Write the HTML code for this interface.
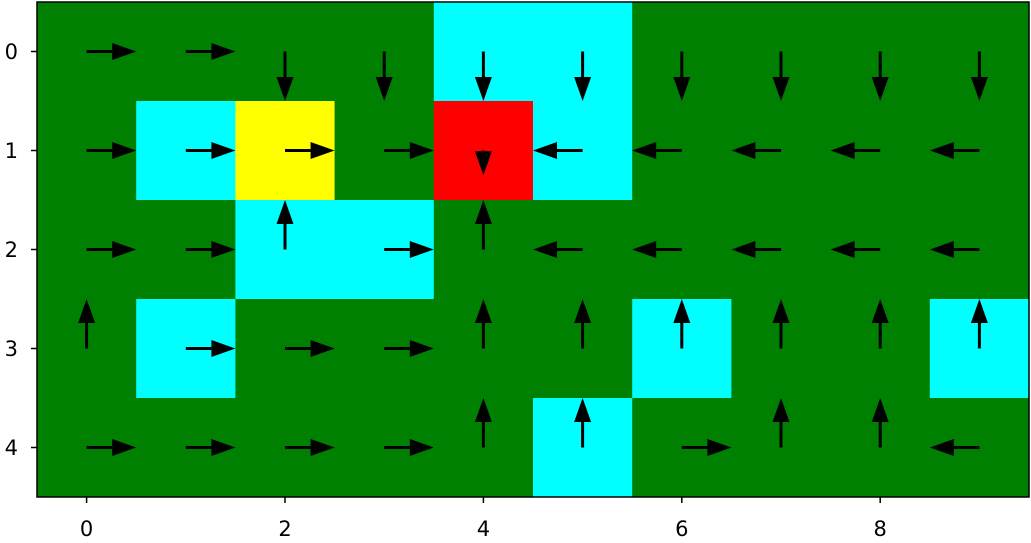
<!DOCTYPE html>
<html><head><meta charset="utf-8"><style>
html,body{margin:0;padding:0;background:#fff;}
svg{display:block;font-family:"DejaVu Sans","Liberation Sans",sans-serif;}
</style></head><body>
<svg id="chart" width="1031" height="543" viewBox="0 0 1031 543" xmlns="http://www.w3.org/2000/svg"></svg>
<script>
// grid cell types: G=green, C=cyan, Y=yellow(start), R=red(goal)
const gridRows = [
  "GGGGCCGGGG",
  "GCYGRCGGGG",
  "GGCCGGGGGG",
  "GCGGGGCGGC",
  "GGGGGCGGGG"
];
// arrow directions per cell: R,L,U,D
const arrowRows = [
  "RRDDDDDDDD",
  "RRRRDLLLLL",
  "RRURULLLLL",
  "URRRUUUUUU",
  "RRRRUURUUL"
];
// arrow length (in cells) overrides
const shortArrows = [[4,1]];
const xTicks = [0,2,4,6,8];
const yTicks = [0,1,2,3,4];

const svg = document.getElementById('chart');
const NS = 'http://www.w3.org/2000/svg';
const L = 37, R = 1029, T = 2, B = 497;
const nCols = 10, nRows = 5;
const cw = (R-L)/nCols, ch = (B-T)/nRows;
const xs = v => L + (v+0.5)*cw;
const ys = v => T + (v+0.5)*ch;
const colors = {G:'#008000',C:'#00ffff',Y:'#ffff00',R:'#ff0000'};
function mk(tag, attrs){const e=document.createElementNS(NS,tag);for(const k in attrs)e.setAttribute(k,attrs[k]);svg.appendChild(e);return e;}

gridRows.forEach((row,r)=>{
  [...row].forEach((c,i)=>{
    const e = mk('rect',{x:L+i*cw,y:T+r*ch,width:cw+0.5,height:ch+0.5,fill:colors[c]});
    
    
  });
});

const dirs = {R:[1,0],L:[-1,0],U:[0,-1],D:[0,1]};
arrowRows.forEach((row,r)=>{
  [...row].forEach((d,i)=>{
    let len = 0.5;
    if (shortArrows.some(p=>p[0]===i&&p[1]===r)) len = 0.25;
    const [dx,dy] = dirs[d];
    const x0 = xs(i), y0 = ys(r);
    const Lpx = len*(dx?cw:ch);
    const x1 = x0+dx*Lpx, y1 = y0+dy*Lpx;
    const hl = 24, hw = 8.5;
    const bx = x1-dx*hl, by = y1-dy*hl;
    const g = mk('g',{});
    
    
    if (Lpx > hl) {
      const ln = document.createElementNS(NS,'line');
      ln.setAttribute('x1',x0);ln.setAttribute('y1',y0);ln.setAttribute('x2',bx);ln.setAttribute('y2',by);
      ln.setAttribute('stroke','#000');ln.setAttribute('stroke-width','3');
      g.appendChild(ln);
    }
    const p = document.createElementNS(NS,'polygon');
    const px = -dy, py = dx;
    p.setAttribute('points',`${x1},${y1} ${bx+px*hw},${by+py*hw} ${bx-px*hw},${by-py*hw}`);
    p.setAttribute('fill','#000');
    g.appendChild(p);
  });
});

const frame = mk('rect',{x:L,y:T,width:R-L,height:B-T,fill:'none',stroke:'#000','stroke-width':1.5});



xTicks.forEach(v=>{
  const t = mk('line',{x1:xs(v),x2:xs(v),y1:B,y2:B+6,stroke:'#000','stroke-width':1.5});
  
  
  const tx = mk('text',{x:xs(v),y:536,'text-anchor':'middle','font-size':21,fill:'#000'});
  tx.textContent = v;
  
  
});
yTicks.forEach(v=>{
  const t = mk('line',{x1:L-6,x2:L,y1:ys(v),y2:ys(v),stroke:'#000','stroke-width':1.5});
  
  
  const tx = mk('text',{x:18,y:ys(v)+7.5,'text-anchor':'end','font-size':21,fill:'#000'});
  tx.textContent = v;
  
  
});
</script>
</body></html>
